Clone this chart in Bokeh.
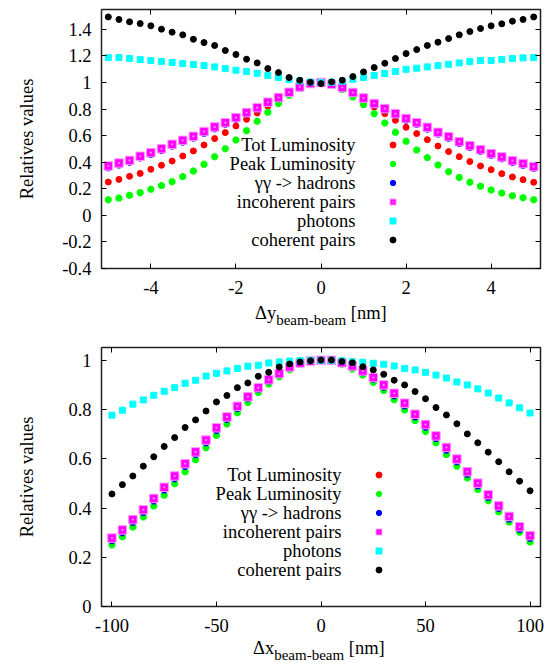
from bokeh.plotting import figure
from bokeh.models import (Range1d, FixedTicker, LinearAxis, Label, Legend,
                          LegendItem, CustomJSTickFormatter, Div)
from bokeh.layouts import column
from bokeh.embed import file_html
from bokeh.resources import INLINE

# ---------------- data ----------------
series_names = ["Tot Luminosity", "Peak Luminosity", "\u03b3\u03b3 -> hadrons",
                "incoherent pairs", "photons", "coherent pairs"]

dy = [-5.0, -4.75, -4.5, -4.25, -4.0, -3.75, -3.5, -3.25, -3.0, -2.75, -2.5,
      -2.25, -2.0, -1.75, -1.5, -1.25, -1.0, -0.75, -0.5, -0.25, 0.0, 0.25,
      0.5, 0.75, 1.0, 1.25, 1.5, 1.75, 2.0, 2.25, 2.5, 2.75, 3.0, 3.25, 3.5,
      3.75, 4.0, 4.25, 4.5, 4.75, 5.0]

tot_y = [0.251, 0.271, 0.294, 0.316, 0.347, 0.377, 0.409, 0.447, 0.485, 0.530,
         0.578, 0.623, 0.673, 0.723, 0.771, 0.821, 0.866, 0.912, 0.955, 0.988,
         1.000, 0.988, 0.953, 0.908, 0.862, 0.815, 0.766, 0.716, 0.663, 0.616,
         0.570, 0.522, 0.480, 0.442, 0.405, 0.372, 0.344, 0.314, 0.289, 0.269,
         0.249]
peak_y = [0.118, 0.130, 0.151, 0.171, 0.196, 0.224, 0.254, 0.292, 0.334, 0.384,
          0.442, 0.502, 0.567, 0.638, 0.708, 0.776, 0.842, 0.904, 0.955, 0.987,
          1.000, 0.985, 0.947, 0.892, 0.834, 0.766, 0.696, 0.625, 0.558, 0.492,
          0.435, 0.379, 0.329, 0.286, 0.249, 0.219, 0.191, 0.168, 0.148, 0.133,
          0.118]
had_y = [0.356, 0.378, 0.399, 0.430, 0.457, 0.487, 0.520, 0.550, 0.580, 0.616,
         0.651, 0.684, 0.722, 0.761, 0.799, 0.840, 0.877, 0.919, 0.961, 0.989,
         1.000, 0.984, 0.956, 0.917, 0.874, 0.830, 0.791, 0.752, 0.715, 0.684,
         0.648, 0.610, 0.578, 0.540, 0.510, 0.480, 0.450, 0.425, 0.397, 0.375,
         0.352]
inc_y = [0.372, 0.394, 0.414, 0.445, 0.472, 0.502, 0.535, 0.565, 0.595, 0.631,
         0.666, 0.698, 0.736, 0.774, 0.811, 0.852, 0.887, 0.927, 0.967, 0.992,
         1.000, 0.987, 0.962, 0.925, 0.884, 0.842, 0.804, 0.766, 0.729, 0.698,
         0.663, 0.625, 0.593, 0.555, 0.525, 0.495, 0.465, 0.440, 0.412, 0.390,
         0.367]
pho_y = [1.188, 1.188, 1.181, 1.173, 1.166, 1.158, 1.151, 1.143, 1.136, 1.128,
         1.118, 1.105, 1.093, 1.083, 1.070, 1.053, 1.038, 1.023, 1.012, 1.004,
         1.000, 1.002, 1.010, 1.025, 1.038, 1.053, 1.068, 1.083, 1.100, 1.108,
         1.118, 1.128, 1.138, 1.148, 1.158, 1.166, 1.166, 1.173, 1.181, 1.186,
         1.188]
coh_y = [1.494, 1.475, 1.457, 1.444, 1.427, 1.402, 1.379, 1.359, 1.326, 1.301,
         1.279, 1.241, 1.211, 1.176, 1.148, 1.105, 1.075, 1.038, 1.017, 1.002,
         0.992, 1.005, 1.017, 1.045, 1.080, 1.113, 1.145, 1.181, 1.218, 1.248,
         1.279, 1.304, 1.331, 1.359, 1.384, 1.407, 1.427, 1.442, 1.462, 1.475,
         1.494]

dx = [-100, -95, -90, -85, -80, -75, -70, -65, -60, -55, -50, -45, -40, -35,
      -30, -25, -20, -15, -10, -5, 0, 5, 10, 15, 20, 25, 30, 35, 40, 45, 50,
      55, 60, 65, 70, 75, 80, 85, 90, 95, 100]

tot_x = [0.268, 0.301, 0.343, 0.383, 0.429, 0.474, 0.520, 0.570, 0.618, 0.666,
         0.716, 0.761, 0.805, 0.845, 0.883, 0.916, 0.943, 0.970, 0.988, 0.997,
         1.000, 0.999, 0.988, 0.973, 0.951, 0.924, 0.892, 0.857, 0.816, 0.771,
         0.729, 0.683, 0.636, 0.589, 0.538, 0.491, 0.444, 0.399, 0.356, 0.314,
         0.278]
peak_x = [0.250, 0.283, 0.323, 0.364, 0.408, 0.452, 0.499, 0.547, 0.596, 0.645,
          0.695, 0.741, 0.787, 0.829, 0.869, 0.904, 0.933, 0.962, 0.984, 0.996,
          1.000, 0.996, 0.984, 0.965, 0.940, 0.910, 0.877, 0.840, 0.798, 0.755,
          0.711, 0.665, 0.617, 0.570, 0.522, 0.475, 0.430, 0.385, 0.343, 0.302,
          0.262]
had_x = [0.266, 0.299, 0.341, 0.381, 0.427, 0.472, 0.518, 0.568, 0.616, 0.664,
         0.714, 0.759, 0.803, 0.843, 0.881, 0.914, 0.941, 0.969, 0.987, 0.996,
         1.000, 0.999, 0.987, 0.972, 0.950, 0.922, 0.890, 0.855, 0.814, 0.769,
         0.727, 0.681, 0.634, 0.587, 0.536, 0.489, 0.442, 0.397, 0.354, 0.312,
         0.276]
inc_x = [0.278, 0.311, 0.353, 0.393, 0.439, 0.484, 0.530, 0.580, 0.628, 0.676,
         0.726, 0.770, 0.813, 0.852, 0.889, 0.921, 0.946, 0.973, 0.989, 0.997,
         1.000, 1.000, 0.990, 0.977, 0.957, 0.930, 0.900, 0.866, 0.826, 0.781,
         0.739, 0.693, 0.646, 0.599, 0.548, 0.501, 0.454, 0.409, 0.366, 0.324,
         0.288]
pho_x = [0.777, 0.797, 0.822, 0.839, 0.858, 0.874, 0.889, 0.907, 0.919, 0.936,
         0.947, 0.957, 0.967, 0.976, 0.980, 0.989, 0.993, 0.997, 0.999, 1.000,
         1.000, 1.000, 0.998, 0.994, 0.992, 0.988, 0.984, 0.977, 0.967, 0.961,
         0.951, 0.940, 0.928, 0.912, 0.900, 0.884, 0.867, 0.847, 0.827, 0.807,
         0.786]
coh_x = [0.457, 0.495, 0.530, 0.570, 0.608, 0.650, 0.686, 0.727, 0.758, 0.794,
         0.831, 0.857, 0.889, 0.908, 0.935, 0.951, 0.973, 0.985, 0.993, 0.998,
         1.001, 1.001, 0.995, 0.990, 0.974, 0.961, 0.943, 0.919, 0.900, 0.873,
         0.844, 0.808, 0.778, 0.742, 0.701, 0.665, 0.627, 0.588, 0.547, 0.509,
         0.470]

top_xticks = [-4, -2, 0, 2, 4]
top_xlabels = ["-4", "-2", "0", "2", "4"]
top_yticks = [-0.4, -0.2, 0, 0.2, 0.4, 0.6, 0.8, 1, 1.2, 1.4]
top_ylabels = ["-0.4", "-0.2", "0", "0.2", "0.4", "0.6", "0.8", "1", "1.2", "1.4"]
bot_xticks = [-100, -50, 0, 50, 100]
bot_xlabels = ["-100", "-50", "0", "50", "100"]
bot_yticks = [0, 0.2, 0.4, 0.6, 0.8, 1]
bot_ylabels = ["0", "0.2", "0.4", "0.6", "0.8", "1"]

# ---------------- style ----------------
FONT = "Liberation Serif"
FS = "18.5px"
styles = [
    dict(marker="circle", size=6, fill_color="#ff0000", line_color="#ff0000", line_width=1),
    dict(marker="asterisk", size=7, fill_color="#00ff00", line_color="#00ff00", line_width=3),
    dict(marker="asterisk", size=6.5, fill_color="#0000ff", line_color="#0000ff", line_width=3),
    dict(marker="square_dot", size=8.5, fill_color="#ff00ff", line_color="#ff99ff", line_width=1),
    dict(marker="square", size=6, fill_color="#00ffff", line_color="#00ffff", line_width=1),
    dict(marker="circle", size=6, fill_color="#000000", line_color="#000000", line_width=1),
]


def style_axis(ax, ticks, labels, show_labels=True):
    ax.ticker = FixedTicker(ticks=ticks)
    ax.axis_line_color = None
    ax.major_tick_in = 5
    ax.major_tick_out = 0
    ax.major_tick_line_color = "black"
    ax.major_tick_line_width = 1
    ax.minor_tick_line_color = None
    if show_labels:
        ax.major_label_overrides = dict(zip(ticks, labels))
        ax.major_label_text_font = FONT
        ax.major_label_text_font_size = FS
        ax.major_label_text_color = "black"
    else:
        ax.formatter = CustomJSTickFormatter(code="return ''")
        ax.major_label_text_font_size = "0px"
        ax.major_label_standoff = 0


def panel(xs, ys_list, xr, yr, xticks, xlabels, yticks, ylabels, height,
          border_top, border_bottom, ylabel_standoff, legend_text_x,
          legend_glyph_x, legend_top_y):
    p = figure(width=552, height=height, x_range=Range1d(*xr), y_range=Range1d(*yr),
               output_backend="svg", toolbar_location=None,
               min_border_left=101, min_border_right=12,
               min_border_top=border_top, min_border_bottom=border_bottom)
    p.xgrid.visible = False
    p.ygrid.visible = False
    p.outline_line_color = "#202020"
    p.outline_line_width = 1.5
    p.background_fill_color = "white"

    style_axis(p.xaxis[0], xticks, xlabels)
    p.xaxis[0].major_label_standoff = 12
    style_axis(p.yaxis[0], yticks, ylabels)
    p.yaxis[0].major_label_standoff = 10
    p.yaxis[0].axis_label = "Relatives values"
    p.yaxis[0].axis_label_text_font = FONT
    p.yaxis[0].axis_label_text_font_size = FS
    p.yaxis[0].axis_label_text_font_style = "normal"
    p.yaxis[0].axis_label_text_color = "black"
    p.yaxis[0].axis_label_standoff = ylabel_standoff

    right = LinearAxis()
    style_axis(right, yticks, ylabels, show_labels=False)
    p.add_layout(right, "right")
    above = LinearAxis()
    style_axis(above, xticks, xlabels, show_labels=False)
    p.add_layout(above, "above")

    renderers = []
    for ys, st in zip(ys_list, styles):
        r = p.scatter(xs, ys, **st)
        renderers.append(r)

    pitch = 19
    gw = 15
    items = [LegendItem(label=" ", renderers=[r]) for r in renderers]
    n = len(items)
    legend = Legend(items=items,
                    location=(legend_glyph_x - gw / 2, legend_top_y - (n - 1) * pitch - gw / 2),
                    padding=0, margin=0, spacing=pitch - gw, glyph_width=gw, glyph_height=gw,
                    label_height=gw, label_width=0, label_standoff=0,
                    label_text_font_size="1px", border_line_color=None,
                    background_fill_alpha=0, inactive_fill_alpha=0)
    p.add_layout(legend)
    for i, name in enumerate(series_names):
        p.add_layout(Label(x=legend_text_x, y=legend_top_y - i * pitch, x_units="screen",
                           y_units="screen", text=name, text_align="right",
                           text_baseline="middle", text_font=FONT, text_font_size=FS,
                           text_color="black"))
    return p


def xlabel_div(sym, height, left, top, sub_shift):
    html = (
        f'<div style="position:relative;width:552px;height:{height}px;overflow:hidden;'
        f"font-family:'Liberation Serif',serif;color:#000;\">"
        f'<span style="position:absolute;left:{left}px;top:{top}px;font-size:18.5px;'
        f'line-height:1;white-space:nowrap;">\u0394{sym}'
        f'<span style="font-size:15px;position:relative;top:{sub_shift}px;">beam-beam</span>'
        f' [nm]</span></div>'
    )
    return Div(text=html, width=552, height=height, margin=0)


p1 = panel(dy, [tot_y, peak_y, had_y, inc_y, pho_y, coh_y], (-5.16, 5.16), (-0.4, 1.55),
           top_xticks, top_xlabels, top_yticks, top_ylabels, height=300,
           border_top=9, border_bottom=32, ylabel_standoff=22,
           legend_text_x=254, legend_glyph_x=291, legend_top_y=124)
d1 = xlabel_div("y", 30, 255, 4, 6)
p2 = panel(dx, [tot_x, peak_x, had_x, inc_x, pho_x, coh_x], (-105, 105), (0, 1.052),
           bot_xticks, bot_xlabels, bot_yticks, bot_ylabels, height=308,
           border_top=17, border_bottom=32, ylabel_standoff=28,
           legend_text_x=240, legend_glyph_x=277, legend_top_y=132)
d2 = xlabel_div("x", 24, 253, 1, 6)

layout = column(p1, d1, p2, d2, spacing=0)
open("out.html", "w").write(file_html(layout, INLINE))
